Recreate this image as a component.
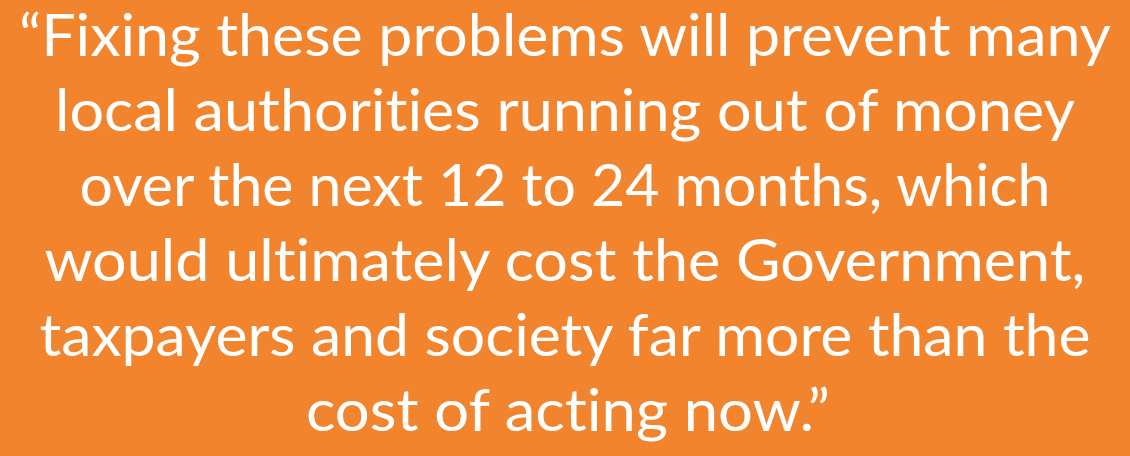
import React from "react";

const quoteLines: string[] = [
  "\u201CFixing these problems will prevent many",
  "local authorities running out of money",
  "over the next 12 to 24 months, which",
  "would ultimately cost the Government,",
  "taxpayers and society far more than the",
  "cost of acting now.\u201D",
];

// measured rendered widths of each line (px)
const lineWidths: number[] = [1092, 1020, 971, 1041, 1051, 524];

const W = 1130;
const H = 456;

export default function App() {
  return (
    <svg width={W} height={H} style={{ position: "absolute", left: 0, top: 0, display: "block" }}>
      <rect x={0} y={0} width={W} height={H} fill="#F1842C" />
      {quoteLines.map((t, i) => (
        <text
          key={i}
          x={W / 2 + (i === 0 ? 0 : i === 5 ? 3 : 0)}
          y={56 + i * 75}
          textAnchor="middle"
          fill="#FFFFFF"
          fontFamily="Lato, 'Noto Sans', sans-serif"
          fontSize={59}
          textLength={lineWidths[i]}
          lengthAdjust="spacingAndGlyphs"
          style={{ fontVariantLigatures: "none", fontFeatureSettings: "'liga' 0, 'clig' 0" }}
        >
          {t}
        </text>
      ))}
    </svg>
  );
}
